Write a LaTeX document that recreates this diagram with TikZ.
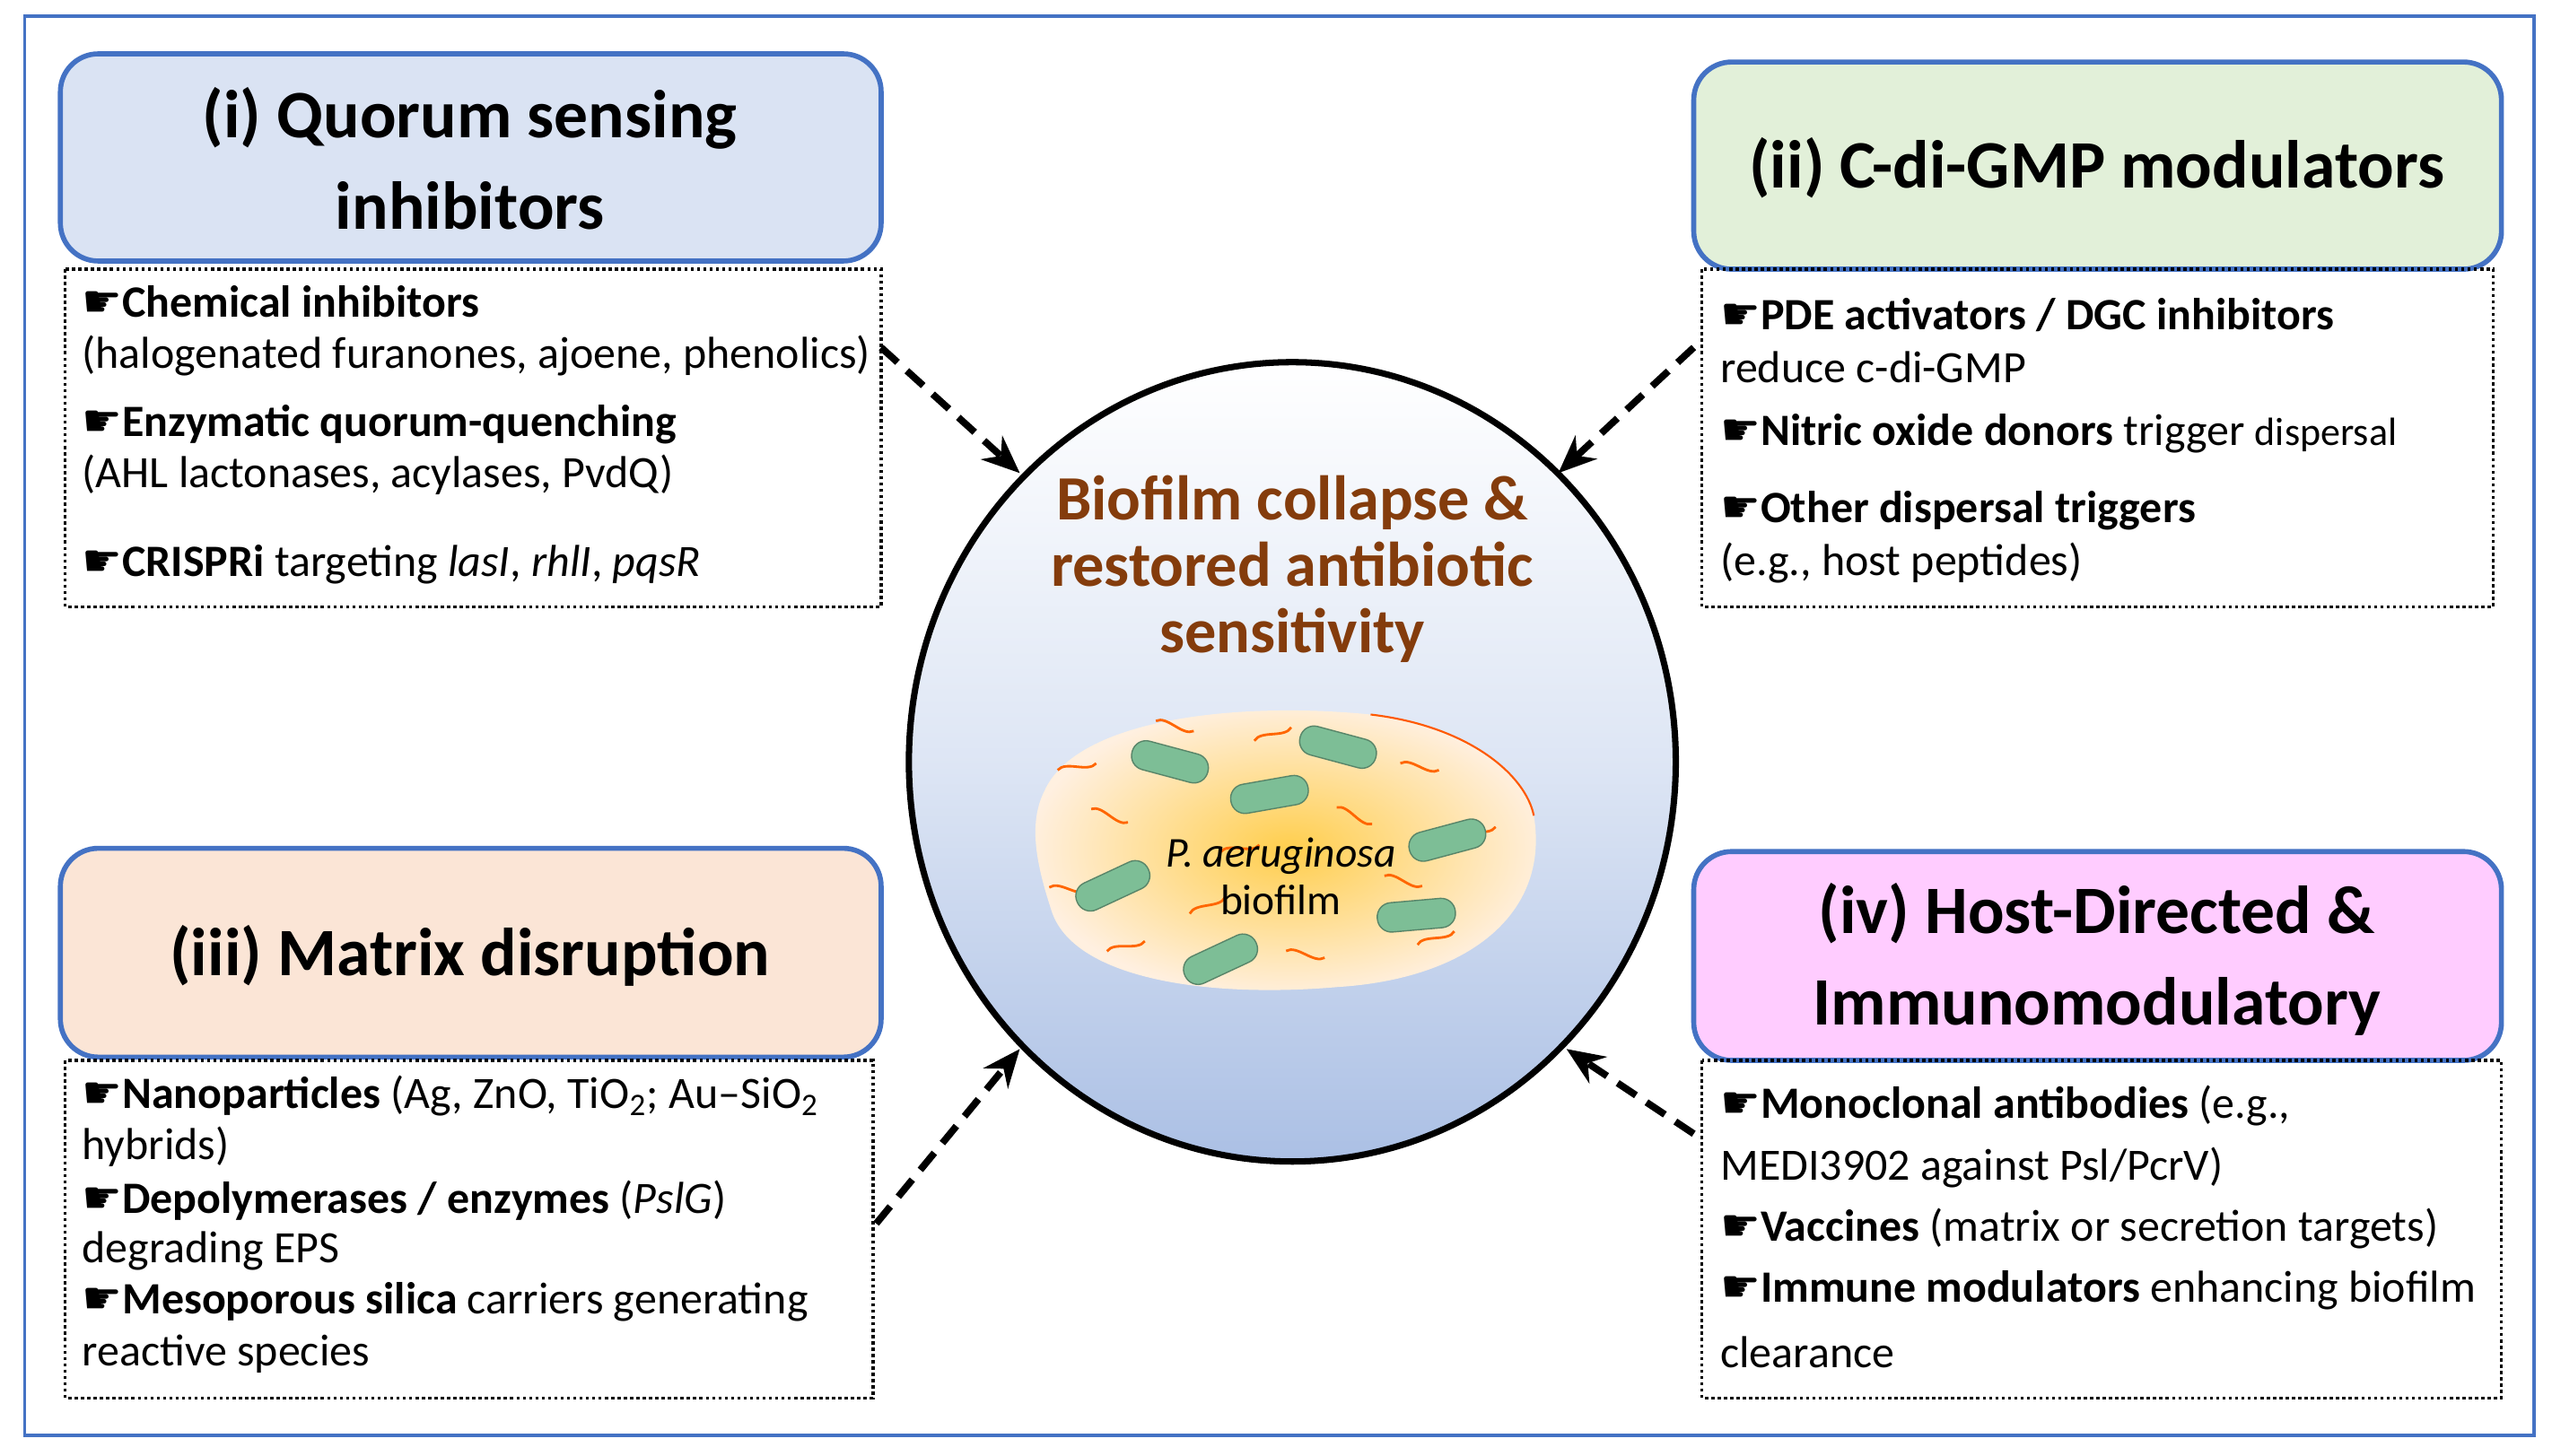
\documentclass[tikz,border=0pt]{standalone}
\usepackage{fontspec}
\setmainfont{Carlito}
\newfontfamily\symf{DejaVu Sans}
\usetikzlibrary{arrows.meta}
\definecolor{bordblue}{HTML}{4472C4}
\definecolor{fi}{HTML}{DAE3F3}
\definecolor{fii}{HTML}{E2F0D9}
\definecolor{fiii}{HTML}{FBE5D6}
\definecolor{fiv}{HTML}{FFCCFF}
\definecolor{brownt}{HTML}{843C0C}
\definecolor{rodg}{HTML}{7DBE96}
\newcommand{\hb}{{\symf ☛}}
\tikzset{
 tbox/.style={draw=bordblue,line width=1.6pt,rounded corners=12pt},
 bbox/.style={draw=black,densely dotted,line width=1pt},
 ttl/.style={font=\fontsize{21.5}{25}\selectfont\bfseries,align=center},
 bl/.style={anchor=west,font=\fontsize{14.2}{17}\selectfont,inner sep=0pt},
 arr/.style={-{Stealth[length=12pt,width=10pt]},dashed,dash pattern=on 7pt off 4pt,line width=2.2pt},
 rod/.style={fill=rodg,draw=rodg!70!black,line width=0.4pt,rounded corners=4.5pt},
 wav/.style={draw=orange!80!red,line width=0.8pt}
}
\begin{document}
\begin{tikzpicture}[x=0.01818cm,y=-0.01818cm]
\useasboundingbox (0,0) rectangle (1564,892);
\fill[white] (0,0) rectangle (1564,892);
\draw[bordblue,line width=1pt] (15,10) rectangle (1553,880);
% title boxes
\path[tbox,fill=fi] (37,33) rectangle (540,160);
\node[ttl] (tit1) at (288,97) {(i) Quorum sensing\\[4pt]inhibitors};
\path[tbox,fill=fii] (1038,38) rectangle (1533,165);
\node[ttl] (tit2) at (1285,103) {(ii) C-di-GMP modulators};
\path[tbox,fill=fiii] (37,520) rectangle (540,648);
\node[ttl] (tit3) at (288,586) {(iii) Matrix disruption};
\path[tbox,fill=fiv] (1038,522) rectangle (1533,650);
\node[ttl] (tit4) at (1285,588) {(iv) Host-Directed \&\\[4pt]Immunomodulatory};
% body boxes
\draw[bbox] (40,165) rectangle (540,372);
\draw[bbox] (1043,165) rectangle (1528,372);
\draw[bbox] (40,650) rectangle (535,857);
\draw[bbox] (1043,650) rectangle (1533,857);
% box i text
\node[bl] (a1) at (50,185) {\hb\textbf{Chemical inhibitors}};
\node[bl] (a2) at (50,218) {(halogenated furanones, ajoene, phenolics)};
\node[bl] (a3) at (50,260) {\hb\textbf{Enzymatic quorum-quenching}};
\node[bl] (a4) at (50,291) {(AHL lactonases, acylases, PvdQ)};
\node[bl] (a5) at (50,346) {\hb\textbf{CRISPRi} targeting \textit{lasI}, \textit{rhlI}, \textit{pqsR}};
% box ii text
\node[bl] (b1) at (1054,193) {\hb\textbf{PDE activators / DGC inhibitors}};
\node[bl] (b2) at (1054,225) {reduce c-di-GMP};
\node[bl] (b3) at (1054,266) {\hb\textbf{Nitric oxide donors} trigger {\fontsize{12.5}{14}\selectfont dispersal}};
\node[bl] (b4) at (1054,313) {\hb\textbf{Other dispersal triggers}};
\node[bl] (b5) at (1054,345) {(e.g., host peptides)};
% box iii text
\node[bl] (c1) at (50,672) {\hb\textbf{Nanoparticles} (Ag, ZnO, TiO\textsubscript{2}; Au–SiO\textsubscript{2}};
\node[bl] (c2) at (50,703) {hybrids)};
\node[bl] (c3) at (50,736) {\hb\textbf{Depolymerases / enzymes} (\textit{PslG})};
\node[bl] (c4) at (50,767) {degrading EPS};
\node[bl] (c5) at (50,798) {\hb\textbf{Mesoporous silica} carriers generating};
\node[bl] (c6) at (50,830) {reactive species};
% box iv text
\node[bl] (d1) at (1054,678) {\hb\textbf{Monoclonal antibodies} (e.g.,};
\node[bl] (d2) at (1054,716) {MEDI3902 against Psl/PcrV)};
\node[bl] (d3) at (1054,753) {\hb\textbf{Vaccines} (matrix or secretion targets)};
\node[bl] (d4) at (1054,791) {\hb\textbf{Immune modulators} enhancing biofilm};
\node[bl] (d5) at (1054,829) {clearance};
% circle
\shade[top color=white,bottom color=bordblue!45,middle color=bordblue!18] (792,467) ellipse [x radius=235,y radius=245];
\draw[line width=2pt] (792,467) ellipse [x radius=235,y radius=245];
\node[font=\fontsize{20}{21}\selectfont\bfseries,text=brownt,align=center] (ctext) at (792,349) {Biofilm collapse \&\\restored antibiotic\\sensitivity};
% blob
\shade[inner color=orange!55!yellow!70,outer color=orange!12,draw=none]
 (640,485) .. controls (660,440) and (760,430) .. (840,438)
 .. controls (900,445) and (935,475) .. (940,500)
 .. controls (950,560) and (900,600) .. (820,605)
 .. controls (740,612) and (660,600) .. (645,560)
 .. controls (635,530) and (630,505) .. (640,485) -- cycle;
\draw[orange!70!red,line width=0.6pt] (840,438) .. controls (900,445) and (935,475) .. (940,500);
\foreach \x/\y/\a in {660/470/10,720/445/-15,780/450/20,870/470/-10,905/510/15,680/500/-20,760/520/10,830/500/-25,690/580/15,800/585/-10,880/575/20,655/545/-5,740/555/25,860/540/-15}{
 \draw[wav,rotate around={\a:(\x,\y)}] (\x-12,\y) .. controls (\x-6,\y-5) and (\x+6,\y+5) .. (\x+12,\y);}
\foreach \x/\y/\a in {717/467/-15,820/458/-15,778/487/10,887/515/15,682/543/25,868/561/5,748/588/25}{
 \draw[rod,rotate around={\a:(\x,\y)}] (\x-24,\y-9) rectangle (\x+24,\y+9);}
\node[font=\fontsize{13.5}{15}\selectfont,align=center] (bio) at (785,537) {\textit{P. aeruginosa}\\biofilm};
% arrows
\coordinate (s1) at (540,213); \coordinate (e1) at (625,290);
\coordinate (s2) at (1038,213); \coordinate (e2) at (955,290);
\coordinate (s3) at (537,750); \coordinate (e3) at (625,643);
\coordinate (s4) at (1038,695); \coordinate (e4) at (960,643);
\draw[arr] (s1) -- (e1);
\draw[arr] (s2) -- (e2);
\draw[arr] (s3) -- (e3);
\draw[arr] (s4) -- (e4);
\end{tikzpicture}
\end{document}
